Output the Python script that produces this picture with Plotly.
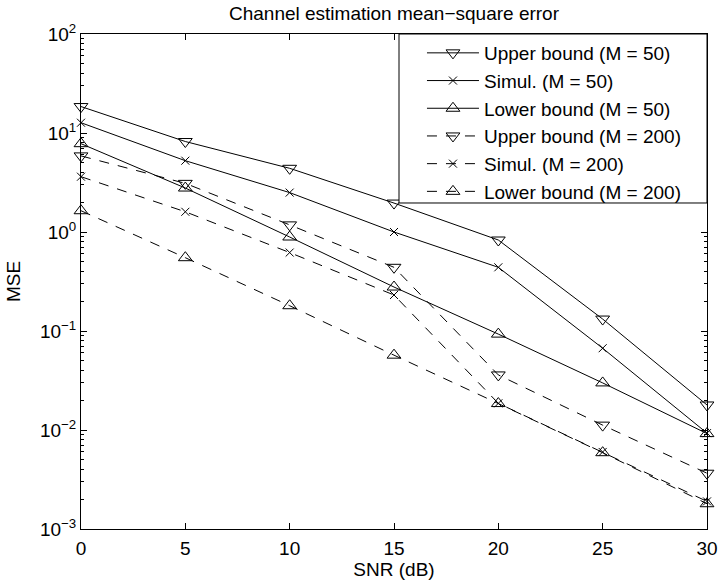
import plotly.graph_objects as go

snr_db = [0, 5, 10, 15, 20, 25, 30]

upper_m50 = [18.5, 8.2, 4.4, 1.96, 0.83, 0.132, 0.0179]
simul_m50 = [12.7, 5.25, 2.5, 1.0, 0.44, 0.067, 0.0093]
lower_m50 = [7.8, 2.78, 0.89, 0.278, 0.093, 0.0299, 0.0092]
upper_m200 = [5.87, 3.1, 1.18, 0.44, 0.036, 0.0112, 0.00366]
simul_m200 = [3.62, 1.6, 0.62, 0.231, 0.0186, 0.0060, 0.0019]
lower_m200 = [1.64, 0.55, 0.18, 0.057, 0.0185, 0.0059, 0.0018]

y_exponents = [-3, -2, -1, 0, 1, 2]

series = [
    ("Upper bound (M = 50)", upper_m50, "solid", "triangle-down-open"),
    ("Simul. (M = 50)", simul_m50, "solid", "x-thin-open"),
    ("Lower bound (M = 50)", lower_m50, "solid", "triangle-up-open"),
    ("Upper bound (M = 200)", upper_m200, "10px,9px", "triangle-down-open"),
    ("Simul. (M = 200)", simul_m200, "10px,9px", "x-thin-open"),
    ("Lower bound (M = 200)", lower_m200, "10px,9px", "triangle-up-open"),
]

FONT = "Liberation Sans, Arial, Helvetica, sans-serif"
FS = 19

fig = go.Figure()
for i, (name, ys, dash, sym) in enumerate(series):
    is_x = sym.startswith("x")
    fig.add_trace(go.Scatter(
        x=snr_db, y=ys, name=name, mode="lines+markers",
        legendgroup=f"g{i}", cliponaxis=False,
        line=dict(color="black", width=1, dash=dash),
        marker=dict(symbol=sym, size=8 if is_x else 12, color="black",
                    line=dict(color="black", width=1)),
    ))

axis_common = dict(
    showline=True, linecolor="black", linewidth=1, mirror="allticks",
    ticks="inside", ticklen=6, tickcolor="black", showgrid=False,
    zeroline=False, automargin=False,
    tickfont=dict(family=FONT, size=FS, color="black"),
)

# legend frame (paper coordinates of the plotting area)
legend_box = dict(x0=0.508, x1=1.0, y0=0.6586, y1=1.0)

fig.update_layout(
    width=720, height=581,
    margin=dict(l=81, r=13, t=34, b=52),
    paper_bgcolor="white", plot_bgcolor="white",
    title=dict(text="Channel estimation mean\u2212square error",
               x=(81 + 707) / 2 / 720, xanchor="center", y=1 - 13 / 581, yanchor="middle",
               font=dict(family=FONT, size=FS, color="black")),
    xaxis=dict(range=[0, 30], tickvals=snr_db, ticklabelstandoff=2,
               title=dict(text="SNR (dB)", standoff=2,
                          font=dict(family=FONT, size=FS, color="black")),
               **axis_common),
    yaxis=dict(type="log", range=[-3, 2],
               tickvals=[10.0 ** e for e in y_exponents],
               ticktext=[f"10<sup>{'\u2212' if e < 0 else ''}{abs(e)}</sup>" for e in y_exponents],
               title=dict(text="MSE", standoff=14,
                          font=dict(family=FONT, size=FS, color="black")),
               minor=dict(ticks="inside", ticklen=3, tickcolor="black", dtick="D1"),
               **axis_common),
    shapes=[dict(type="rect", xref="paper", yref="paper", layer="above",
                 fillcolor="white", line=dict(color="black", width=1),
                 **legend_box)],
    legend=dict(x=0.5447, y=1, xanchor="left", yanchor="top",
                borderwidth=0, bgcolor="rgba(0,0,0,0)",
                font=dict(family=FONT, size=FS, color="black"),
                tracegroupgap=0, traceorder="grouped", itemwidth=52),
    showlegend=True,
)

fig.write_html("out.html")
